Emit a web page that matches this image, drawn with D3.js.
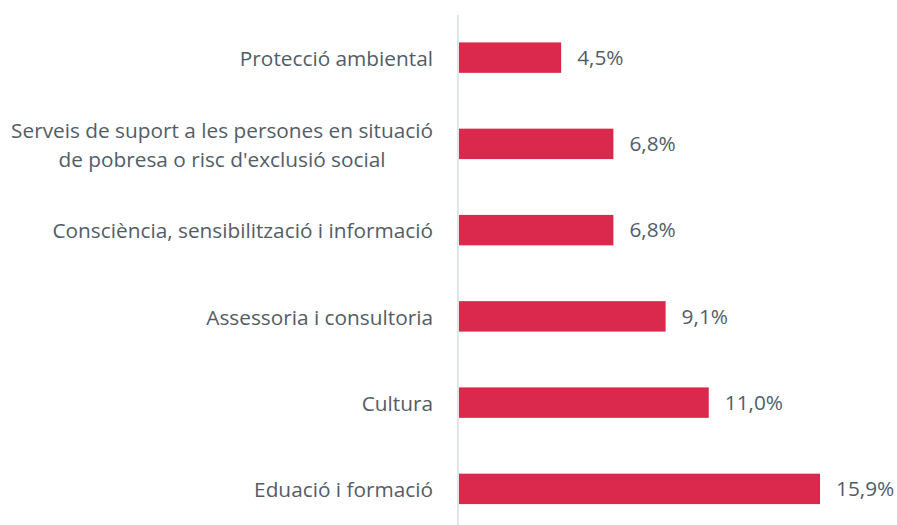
<!DOCTYPE html>
<html>
<head>
<meta charset="utf-8">
<script src="https://cdn.jsdelivr.net/npm/d3@7"></script>
<style>
  body { margin: 0; background: #fff; }
  text { font-family: "Open Sans", sans-serif; }
</style>
</head>
<body>
<script>
// categories from top to bottom, each label split in lines
const categories = [
    ["Protecció ambiental"],
    ["Serveis de suport a les persones en situació", "de pobresa o risc d'exclusió social"],
    ["Consciència, sensibilització i informació"],
    ["Assessoria i consultoria"],
    ["Cultura"],
    ["Eduació i formació"]
];
const values = [4.5, 6.8, 6.8, 9.1, 11.0, 15.9];
const valueLabels = ["4,5%", "6,8%", "6,8%", "9,1%", "11,0%", "15,9%"];

const width = 897, height = 525;
const axisX = 459;
const labelRight = 433;
const fontSize = 20.8;

var svg = d3.select("body").append("svg")
    .attr("width", width)
    .attr("height", height);

var x = d3.scaleLinear()
    .domain([0, 15.9])
    .range([axisX, 820]);

var y = d3.scaleBand()
    .domain(d3.range(categories.length))
    .range([14.5, 532])
    .paddingInner(0.647)
    .paddingOuter(0.3235);

// vertical axis line
svg.append("line")
    .attr("x1", axisX - 1).attr("x2", axisX - 1)
    .attr("y1", 15).attr("y2", height)
    .attr("stroke", "#d9dde3")
    .attr("stroke-width", 1.5);

svg.selectAll("rect.bar")
    .data(values)
    .enter().append("rect")
    .attr("class", "bar")
    .attr("x", x(0))
    .attr("y", function(d, i) { return y(i); })
    .attr("width", function(d) { return x(d) - x(0); })
    .attr("height", y.bandwidth())
    .attr("fill", "#da294c");

svg.selectAll("text.val")
    .data(values)
    .enter().append("text")
    .attr("class", "val")
    .attr("x", function(d) { return x(d) + 16; })
    .attr("y", function(d, i) { return y(i) + y.bandwidth() / 2; })
    .attr("dy", "0.35em")
    .attr("font-size", fontSize)
    .attr("fill", "#525d66")
    .text(function(d, i) { return valueLabels[i]; });

var lineH = 29;
var labels = svg.selectAll("text.cat")
    .data(categories)
    .enter().append("text")
    .attr("class", "cat")
    .attr("font-size", fontSize)
    .attr("fill", "#525d66");

labels.each(function(lines, i) {
    var cy = y(i) + y.bandwidth() / 2;
    var off = (lines.length - 1) * lineH / 2;
    var g = d3.select(this);
    var spans = g.selectAll("tspan")
        .data(lines)
        .enter().append("tspan")
        .attr("y", function(d, j) { return cy - off + j * lineH + 1; })
        .attr("dy", "0.35em")
        .text(function(d) { return d; });
    // block is right aligned, lines centred within it
    var w = d3.max(spans.nodes(), function(n) { return n.getComputedTextLength(); });
    spans.attr("text-anchor", "middle").attr("x", labelRight - w / 2);
});
</script>
</body>
</html>
